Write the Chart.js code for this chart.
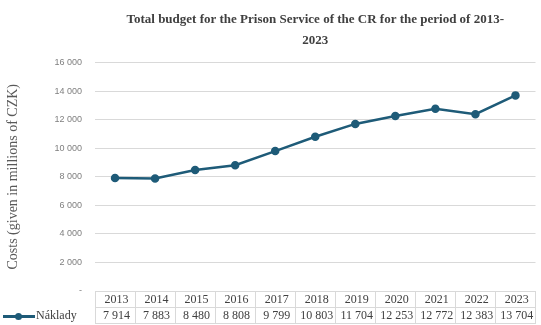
<!DOCTYPE html>
<html>
<head>
<meta charset="utf-8">
<script src="https://cdn.jsdelivr.net/npm/chart.js@4.4.1/dist/chart.umd.min.js"></script>
<style>
body{margin:0;background:#fff;}
#wrap{position:relative;width:541px;height:325px;overflow:hidden;}
#dataTable{position:absolute;left:0;top:291px;border-collapse:collapse;table-layout:fixed;
font-family:"Liberation Serif",serif;font-size:12px;color:#404040;}
#dataTable td{border:1px solid #d9d9d9;height:15px;padding:0 0 0 3px;text-align:center;white-space:nowrap;overflow:hidden;}
#dataTable td.blank{border:none;border-right:1px solid #d9d9d9;}
#dataTable td.legend{border:none;border-right:1px solid #d9d9d9;text-align:left;padding:0;}
.mk{display:inline-block;position:relative;width:32px;height:8px;margin:0 1px 0 3px;vertical-align:middle;}
.mk:before{content:"";position:absolute;left:0;right:0;top:3px;height:2.5px;background:#1e5b78;}
.mk:after{content:"";position:absolute;left:12px;top:0.5px;width:7px;height:7px;border-radius:50%;background:#1e5b78;}
</style>
</head>
<body>
<div id="wrap">
<canvas id="budgetChart" width="541" height="325"></canvas>
<table id="dataTable"></table>
</div>
<script>
const years = ["2013","2014","2015","2016","2017","2018","2019","2020","2021","2022","2023"]
const naklady = [7914,7883,8480,8808,9799,10803,11704,12253,12772,12383,13704]
const seriesName = "Náklady"

const lineColor = "#1e5b78"

function fmt(v){
if(v == 0) return "-"
return String(v).replace(/\B(?=(\d{3})+(?!\d))/g," ")
}

const ctx = document.getElementById("budgetChart")

const chart = new Chart(ctx, {
type: "line",
data: {
labels: years,
datasets: [{
label: seriesName,
data: naklady,
borderColor: lineColor,
backgroundColor: lineColor,
borderWidth: 2.5,
pointRadius: 3,
pointHoverRadius: 3,
tension: 0
}]
},
options: {
responsive: false,
animation: false,
layout: {
padding: {top: 9, right: 5, bottom: 34, left: 0}
},
plugins: {
legend: {display: false},
tooltip: {enabled: false},
title: {
display: true,
fullSize: false,
text: ["Total budget for the Prison Service of the CR for the period of 2013-", "2023"],
color: "#404040",
font: {family: "Liberation Serif", size: 13, weight: "bold", lineHeight: 1.6},
padding: {top: 0, bottom: 12}
}
},
scales: {
x: {
display: false,
offset: true
},
y: {
min: 0,
max: 16000,
afterFit: s => { s.width = 95 },
border: {display: false},
grid: {color: "#d9d9d9", drawTicks: false},
ticks: {
stepSize: 2000,
padding: 13,
color: "#7f7f7f",
font: {family: "Liberation Sans", size: 9},
callback: v => fmt(v)
},
title: {
display: true,
text: "Costs (given in millions of CZK)",
color: "#595959",
font: {family: "Liberation Serif", size: 14},
padding: {top: 5, bottom: 0}
}
}
}
}
})

// data table under the plot, columns follow the x scale
const area = chart.chartArea
const colW = (area.right - area.left) / years.length
const table = document.getElementById("dataTable")
let cols = '<colgroup><col style="width:' + area.left + 'px">'
years.forEach(() => { cols += '<col style="width:' + colW + 'px">' })
cols += '</colgroup>'
let head = '<tr><td class="blank"></td>' + years.map(y => '<td>' + y + '</td>').join('') + '</tr>'
let row = '<tr><td class="legend"><span class="mk"></span>' + seriesName + '</td>' +
naklady.map(v => '<td>' + fmt(v) + '</td>').join('') + '</tr>'
table.innerHTML = cols + head + row
table.style.width = (area.right) + "px"
</script>
</body>
</html>
